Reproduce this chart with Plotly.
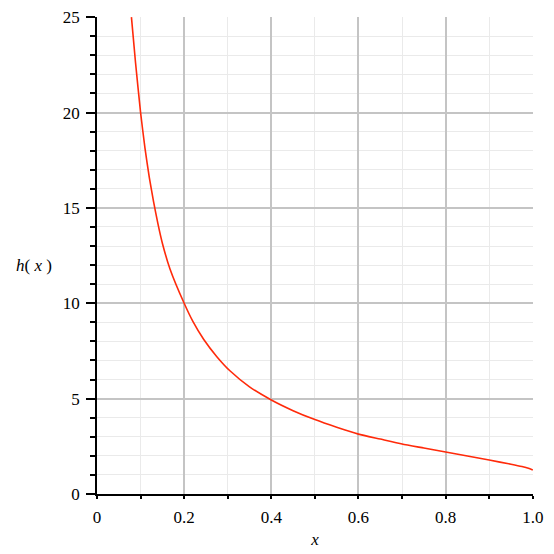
import plotly.graph_objects as go

# curve values
x_vals = [0.079, 0.0885, 0.1, 0.11, 0.12, 0.13, 0.14, 0.15, 0.1675, 0.2, 0.22,
          0.245, 0.275, 0.305, 0.35, 0.4, 0.45, 0.5, 0.55, 0.6, 0.65, 0.7, 0.75,
          0.8, 0.85, 0.9, 0.95, 0.975, 0.99, 1.0]
h_vals = [25.0, 22.6, 20.0, 18.15, 16.6, 15.3, 14.15, 13.15, 11.8, 10.0, 9.05,
          8.1, 7.2, 6.46, 5.62, 4.93, 4.37, 3.9, 3.5, 3.14, 2.88, 2.62, 2.41,
          2.2, 1.99, 1.78, 1.56, 1.44, 1.35, 1.26]

x_ticks = [0, 0.2, 0.4, 0.6, 0.8, 1.0]
x_ticktext = ["0", "0.2", "0.4", "0.6", "0.8", "1.0"]
y_ticks = [0, 5, 10, 15, 20, 25]

FONT = "Liberation Serif"

fig = go.Figure()
fig.add_trace(go.Scatter(
    x=x_vals, y=h_vals, mode="lines",
    line=dict(color="#ff2a0a", width=1.6, shape="spline", smoothing=0.5),
    showlegend=False,
))

fig.update_xaxes(
    range=[0, 1.0005], tickvals=x_ticks, ticktext=x_ticktext, automargin=False,
    ticklabeloverflow="allow",
    showline=True, linecolor="black", linewidth=1.5,
    ticks="outside", ticklen=3, tickcolor="black", tickwidth=1.5,
    ticklabelstandoff=4,
    showgrid=True, gridcolor="#c4c4c4", gridwidth=1.5, zeroline=False,
    minor=dict(dtick=0.1, showgrid=True, gridcolor="#eaeaea", gridwidth=1,
               ticks="outside", ticklen=3, tickcolor="black", tickwidth=1.5),
    tickfont=dict(family=FONT, size=17, color="black"),
    title=dict(text="<i>x</i>", font=dict(family=FONT, size=17, color="black"), standoff=7),
)
fig.update_yaxes(
    range=[0, 25.01], tickvals=y_ticks, automargin=False,
    ticklabeloverflow="allow",
    showline=True, linecolor="black", linewidth=1.5,
    ticks="outside", ticklen=9, tickcolor="black", tickwidth=1.5,
    ticklabelstandoff=3,
    showgrid=True, gridcolor="#c4c4c4", gridwidth=1.5, zeroline=False,
    minor=dict(dtick=1, showgrid=True, gridcolor="#eaeaea", gridwidth=1,
               ticks="outside", ticklen=5, tickcolor="black", tickwidth=1.5),
    tickfont=dict(family=FONT, size=17, color="black"),
)

fig.add_annotation(
    text="<i>h</i>( <i>x</i> )", xref="paper", yref="paper",
    x=-0.19, y=0.478, xanchor="left", yanchor="middle", showarrow=False,
    font=dict(family=FONT, size=17, color="black"),
)

# page body adds an 8 px offset, so the figure is 546 px and margins are trimmed
fig.update_layout(
    width=546, height=546,
    margin=dict(l=89, r=21, t=9, b=60),
    plot_bgcolor="white", paper_bgcolor="white",
)

fig.write_html("out.html")
